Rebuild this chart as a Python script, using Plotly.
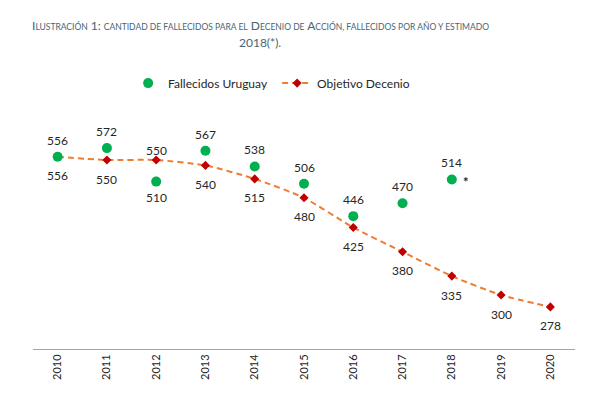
import plotly.graph_objects as go

years = ["2010", "2011", "2012", "2013", "2014", "2015", "2016", "2017", "2018", "2019", "2020"]
fallecidos_years = ["2010", "2011", "2012", "2013", "2014", "2015", "2016", "2017", "2018"]
fallecidos = [556, 572, 510, 567, 538, 506, 446, 470, 514]
objetivo = [556, 550, 550, 540, 515, 480, 425, 380, 335, 300, 278]

# label placement: "above" / "below" the mark
fall_pos = ["above", "above", "below", "above", "above", "above", "above", "above", "above"]
obj_pos = ["below", "below", "above", "below", "below", "below", "below", "below", "below", "below", "below"]

FONT = "Lato"
LABEL_FONT = dict(family=FONT, size=12, color="#262626")
SC = "<span style='font-size:8.5px'>{}</span>"

title_line1 = ("I" + SC.format("LUSTRACIÓN") + " 1: " +
               SC.format("CANTIDAD DE FALLECIDOS PARA EL") + " D" + SC.format("ECENIO DE") +
               " A" + SC.format("CCIÓN, FALLECIDOS POR AÑO Y ESTIMADO"))
title_line2 = "2018(*)."
TITLE_COLOR = "#476574"

fig = go.Figure()
fig.add_trace(go.Scatter(
    x=years, y=objetivo, name="Objetivo Decenio", legendrank=2,
    mode="lines+markers",
    line=dict(color="#ED7D31", width=2, dash="6px,4px", shape="spline", smoothing=0.6),
    marker=dict(color="#C00000", size=7, symbol="diamond"), cliponaxis=False,
))
fig.add_trace(go.Scatter(
    x=fallecidos_years, y=fallecidos, name="Fallecidos Uruguay", legendrank=1,
    mode="markers", marker=dict(color="#00B050", size=10), cliponaxis=False,
))

for xv, yv, p in zip(fallecidos_years, fallecidos, fall_pos):
    fig.add_annotation(x=years.index(xv), y=yv, text=str(yv), showarrow=False,
                       yshift=16.5 if p == "above" else -16, font=LABEL_FONT)
for xv, yv, p in zip(years, objetivo, obj_pos):
    fig.add_annotation(x=years.index(xv), y=yv, text=str(yv), showarrow=False,
                       yshift=10 if p == "above" else -19, font=LABEL_FONT)

fig.add_annotation(x=years.index("2018"), y=fallecidos[fallecidos_years.index("2018")],
                   text="<b>*</b>", showarrow=False, xshift=14, yshift=-3,
                   font=dict(family=FONT, size=13, color="#262626"))

fig.add_annotation(xref="paper", yref="paper", x=(260 - 33) / 542, y=(349 - 25) / 216,
                   xanchor="center", yanchor="middle", showarrow=False, text=title_line1,
                   font=dict(family=FONT, size=12, color=TITLE_COLOR))
fig.add_annotation(xref="paper", yref="paper", x=(260 - 33) / 542, y=(349 - 43) / 216,
                   xanchor="center", yanchor="middle", showarrow=False, text=title_line2,
                   font=dict(family=FONT, size=12, color=TITLE_COLOR))

fig.update_layout(
    width=609, height=394,
    paper_bgcolor="white", plot_bgcolor="white",
    margin=dict(l=33, r=34, t=133, b=45, autoexpand=False),
    showlegend=True,
    legend=dict(orientation="h", x=0.1755, xanchor="left", y=1.231, yanchor="middle",
                font=dict(family=FONT, size=12, color="#262626"), traceorder="normal",
                entrywidth=104, entrywidthmode="pixels"),
    font=dict(family=FONT),
)
fig.update_xaxes(type="category", range=[-0.5, 10.5], showline=True, linecolor="#A6A6A6",
                 linewidth=1, showgrid=False, ticks="", tickangle=-90,
                 tickfont=dict(family=FONT, size=11, color="#262626"), zeroline=False)
fig.update_yaxes(range=[200, 600], visible=False, showgrid=False, zeroline=False)

fig.write_html("out.html", config={"displayModeBar": False},
               post_script="document.body.style.margin='0';")
